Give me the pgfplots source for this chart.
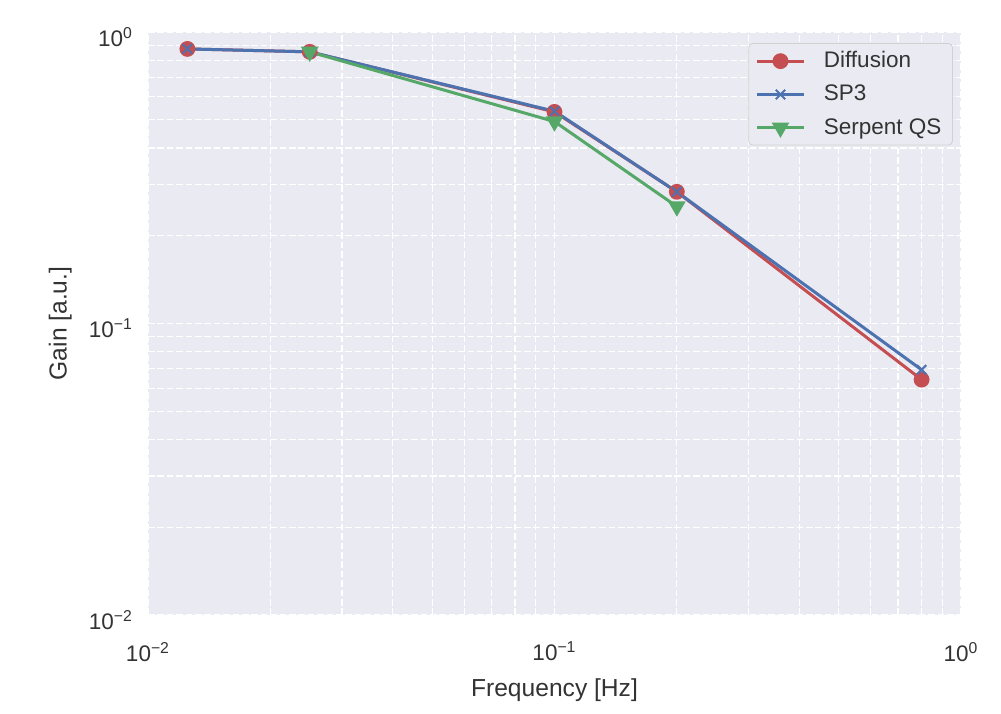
\documentclass[border=0pt]{standalone}
\usepackage{fontspec}
\setmainfont{Liberation Sans}
\usepackage{pgfplots}
\pgfplotsset{compat=1.18}
\definecolor{sbred}{HTML}{C44E52}
\definecolor{sbblue}{HTML}{4C72B0}
\definecolor{sbgreen}{HTML}{55A868}
\definecolor{axbg}{HTML}{EAEAF2}
\begin{document}
\begin{tikzpicture}
\useasboundingbox (-74pt,-49pt) rectangle (426.5pt,307.5pt);
\begin{axis}[
  name=ax,
  xmode=log, ymode=log,
  scale only axis, width=406.5pt, height=291.5pt,
  xmin=0.01, xmax=1, ymin=0.01, ymax=1,
  axis background/.style={fill=axbg},
  axis line style={draw=none},
  tick style={draw=none},
  grid=both,
  major grid style={white, line width=0.8pt, dash pattern=on 3.3pt off 1.4pt},
  minor grid style={white, line width=0.6pt, dash pattern=on 3.3pt off 1.4pt},
  xtick={0.01,0.1,1},
  xticklabels={10\textsuperscript{−2},10\textsuperscript{−1},10\textsuperscript{0}},
  ytick={0.01,0.1,1},
  yticklabels={10\textsuperscript{−2},10\textsuperscript{−1},10\textsuperscript{0}},
  ticklabel style={font=\fontsize{11.25}{13}\selectfont, text=black!80},
  xticklabel style={yshift=-10pt},
  yticklabel style={xshift=-4pt, yshift=-2.5pt},
  label style={font=\fontsize{12.3}{14}\selectfont, text=black!80},
  xlabel={Frequency [Hz]},
  ylabel={Gain [a.u.]},
  xlabel style={at={(axis description cs:0.5,-0.128)}, anchor=center},
  ylabel style={at={(axis description cs:-0.108,0.5)}, anchor=center},
  legend style={at={(axis description cs:0.99,0.981)}, anchor=north east,
    fill=axbg, draw=black!18, rounded corners=2pt,
    font=\fontsize{11.25}{13}\selectfont, text=black!80,
    row sep=3.2pt, inner xsep=3.5pt, inner ysep=2pt},
  legend cell align=left,
  legend image code/.code={\draw[mark repeat=2,mark phase=2] plot coordinates {(0cm,0cm)(0.41cm,0cm)(0.83cm,0cm)};},
]
\addplot[sbred, line width=1.5pt, mark=*, mark size=3.2pt, mark options={solid, fill=sbred, draw=sbred}]
  coordinates {(0.0125,0.875)(0.025,0.855)(0.1,0.532)(0.2,0.283)(0.8,0.0642)};
\addlegendentry{\hspace{7pt}Diffusion}
\addplot[sbblue, line width=1.5pt, mark=x, mark size=3.3pt, mark options={solid, line width=1pt}]
  coordinates {(0.0125,0.875)(0.025,0.855)(0.1,0.535)(0.2,0.283)(0.8,0.0694)};
\addlegendentry{\hspace{7pt}SP3}
\addplot[sbgreen, line width=1.5pt, mark=triangle*, mark size=3.6pt, mark options={solid, rotate=180, fill=sbgreen, draw=sbgreen}]
  coordinates {(0.025,0.855)(0.1,0.493)(0.2,0.252)};
\addlegendentry{\hspace{7pt}Serpent QS}
\end{axis}
\end{tikzpicture}
\end{document}
